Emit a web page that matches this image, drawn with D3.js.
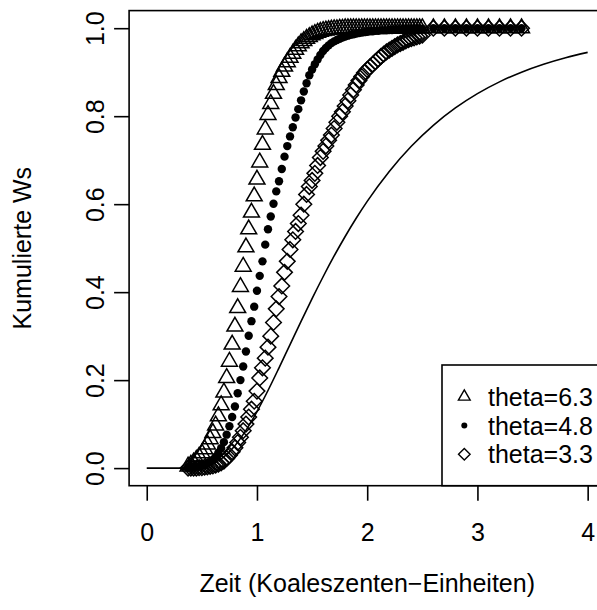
<!DOCTYPE html>
<html>
<head>
<meta charset="utf-8">
<script src="https://d3js.org/d3.v7.min.js"></script>
<style type="text/css">
  body { margin: 0; background: #fff; }
  text { font-family: "Liberation Sans", Arial, sans-serif; fill: #000; }
</style>
</head>
<body>
<div id="chart"></div>
<script type="text/javascript">

// time grid of the three simulated curves
var zeit = [0.375,0.4,0.425,0.45,0.475,0.5,0.525,0.55,0.575,0.6,
  0.625,0.65,0.675,0.7,0.725,0.75,0.775,0.8,0.825,0.85,
  0.875,0.9,0.925,0.95,0.975,1,1.025,1.05,1.075,1.1,
  1.125,1.15,1.175,1.2,1.225,1.25,1.275,1.3,1.325,1.35,
  1.375,1.4,1.425,1.45,1.475,1.5,1.525,1.55,1.575,1.6,
  1.625,1.65,1.675,1.7,1.725,1.75,1.775,1.8,1.825,1.85,
  1.875,1.9,1.925,1.95,1.975,2,2.025,2.05,2.075,2.1,
  2.125,2.15,2.175,2.2,2.225,2.25,2.275,2.3,2.325,2.35,
  2.375,2.4,2.425,2.45,2.475,2.5,
  2.6,2.7,2.8,2.9,3,3.1,3.2,3.3,3.4];

// theta=6.3 (triangles)
var theta63 = [0.004,0.008,0.013,0.019,0.026,0.034,0.043,0.054,0.066,0.080,
  0.097,0.118,0.143,0.172,0.205,0.242,0.281,0.322,0.364,0.412,
  0.458,0.502,0.543,0.581,0.618,0.656,0.695,0.735,0.770,0.803,
  0.828,0.851,0.871,0.887,0.901,0.913,0.923,0.933,0.942,0.951,
  0.959,0.966,0.971,0.976,0.980,0.984,0.987,0.990,0.992,0.994,
  0.995,0.996,0.997,0.998,0.998,0.999,0.999,1,1,1,
  1,1,1,1,1,1,1,1,1,1,
  1,1,1,1,1,1,1,1,1,1,
  1,1,1,1,1,1,
  1,1,1,1,1,1,1,1,1];

// theta=4.8 (filled dots)
var theta48 = [0.000,0.001,0.002,0.003,0.004,0.005,0.007,0.010,0.014,0.019,
  0.026,0.035,0.045,0.059,0.076,0.095,0.116,0.140,0.170,0.200,
  0.231,0.265,0.301,0.334,0.367,0.403,0.437,0.470,0.508,0.543,
  0.572,0.601,0.629,0.652,0.680,0.708,0.732,0.754,0.775,0.797,
  0.816,0.836,0.856,0.875,0.893,0.906,0.918,0.929,0.939,0.948,
  0.955,0.961,0.966,0.970,0.973,0.976,0.979,0.981,0.983,0.985,
  0.986,0.988,0.989,0.990,0.991,0.992,0.993,0.993,0.994,0.994,
  0.995,0.995,0.995,0.996,0.996,0.997,0.997,0.997,0.998,0.998,
  0.998,0.998,0.999,0.999,0.999,0.999,
  1,1,1,1,1,1,1,1,1];

// theta=3.3 (diamonds)
var theta33 = [0,0,0,0,0.001,0.001,0.002,0.003,0.004,0.005,
  0.007,0.009,0.012,0.016,0.022,0.029,0.037,0.046,0.058,0.070,
  0.085,0.100,0.116,0.134,0.152,0.175,0.205,0.228,0.250,0.275,
  0.300,0.331,0.362,0.390,0.414,0.445,0.470,0.497,0.519,0.538,
  0.556,0.575,0.600,0.622,0.640,0.654,0.670,0.688,0.706,0.720,
  0.732,0.745,0.757,0.772,0.786,0.800,0.810,0.823,0.835,0.848,
  0.860,0.871,0.881,0.890,0.899,0.906,0.912,0.918,0.924,0.930,
  0.936,0.941,0.946,0.950,0.954,0.958,0.962,0.965,0.968,0.971,
  0.974,0.976,0.978,0.980,0.982,0.984,
  1,1,1,1,1,1,1,1,1];

// solid reference curve
var kurveT = [0,0.1,0.2,0.3,0.4,0.5,0.6,0.7,0.8,0.9,1,1.1,1.2,1.3,1.4,1.5,1.6,1.7,1.8,1.9,2,
  2.2,2.4,2.6,2.8,3,3.2,3.4,3.6,3.8,4];
var kurveF = [0,0,0,0,0.0003,0.0025,0.0098,0.0255,0.051,0.0858,0.1284,0.1764,0.2279,0.2808,0.3336,
  0.3853,0.435,0.4822,0.5265,0.5679,0.6063,0.6744,0.7316,0.7792,0.8187,0.8513,0.878,0.9001,0.9181,0.9329,0.9451];

var xTicks = [0,1,2,3,4];
var yTicks = [0,0.2,0.4,0.6,0.8,1];
var legendLabels = ["theta=6.3","theta=4.8","theta=3.3"];

var W = 597, H = 610;
var svg = d3.select("#chart").append("svg").attr("width", W).attr("height", H);

// R style: range extended by 4% on each side
var x = d3.scaleLinear().domain([-0.16, 4.16]).range([129.1, 605.3]);
var y = d3.scaleLinear().domain([-0.04, 1.04]).range([485.7, 10.6]);

var lw = 1.6;

// shapes like R pch 2, 20, 5
function triangle(r) {
  var xc = r * Math.sqrt(3) / 2, yc = r / 2;
  return "M0," + (-r) + "L" + xc + "," + yc + "L" + (-xc) + "," + yc + "Z";
}
function diamond(r) {
  return "M0," + (-r) + "L" + r + ",0L0," + r + "L" + (-r) + ",0Z";
}

// reference line
var line = d3.line().x(function(d, i) { return x(kurveT[i]); })
  .y(function(d) { return y(d); }).curve(d3.curveMonotoneX);
svg.append("path").datum(kurveF).attr("d", line)
  .attr("fill", "none").attr("stroke", "#000").attr("stroke-width", lw);

// points
var pts = svg.append("g");
pts.selectAll(".tri").data(theta63).enter().append("path")
  .attr("transform", function(d, i) { return "translate(" + x(zeit[i]) + "," + y(d) + ")"; })
  .attr("d", triangle(9.2)).attr("fill", "none").attr("stroke", "#000").attr("stroke-width", 1.5);
pts.selectAll(".dot").data(theta48).enter().append("circle")
  .attr("cx", function(d, i) { return x(zeit[i]); })
  .attr("cy", function(d) { return y(d); })
  .attr("r", 4.2).attr("fill", "#000");
pts.selectAll(".dia").data(theta33).enter().append("path")
  .attr("transform", function(d, i) { return "translate(" + x(zeit[i]) + "," + y(d) + ")"; })
  .attr("d", diamond(7.8)).attr("fill", "none").attr("stroke", "#000").attr("stroke-width", 1.5);

// box
svg.append("rect").attr("x", 129.1).attr("y", 10.6).attr("width", 476.2).attr("height", 475.1)
  .attr("fill", "none").attr("stroke", "#000").attr("stroke-width", lw);

// axes
var fs = "25px";
var xAxis = svg.append("g").attr("transform", "translate(0,485.7)")
  .call(d3.axisBottom(x).tickValues(xTicks).tickSize(15).tickFormat(d3.format("d")));
xAxis.select(".domain").remove();
xAxis.selectAll("line").attr("stroke-width", lw);
xAxis.selectAll("text").attr("y", 55).attr("dy", null).style("font-size", fs);

var yAxis = svg.append("g").attr("transform", "translate(129.1,0)")
  .call(d3.axisLeft(y).tickValues(yTicks).tickSize(15).tickFormat(d3.format(".1f")));
yAxis.select(".domain").remove();
yAxis.selectAll("line").attr("stroke-width", lw);
yAxis.selectAll("text").attr("x", null).attr("dy", null)
  .attr("text-anchor", "middle").attr("transform", "translate(-25,0) rotate(-90)")
  .style("font-size", fs);

// axis titles
svg.append("text").attr("x", 367.2).attr("y", 592).attr("text-anchor", "middle")
  .style("font-size", fs).text("Zeit (Koaleszenten\u2212Einheiten)");
svg.append("text").attr("transform", "translate(31,248.2) rotate(-90)").attr("text-anchor", "middle")
  .style("font-size", fs).text("Kumulierte Ws");

// legend, bottom right
var leg = svg.append("g");
leg.append("rect").attr("x", 442).attr("y", 365).attr("width", 200).attr("height", 120.7)
  .attr("fill", "#fff").attr("stroke", "#000").attr("stroke-width", lw);
var rowY = [396.7, 425.5, 454.3];
leg.append("path").attr("transform", "translate(464.3," + rowY[0] + ")")
  .attr("d", triangle(6.8)).attr("fill", "none").attr("stroke", "#000").attr("stroke-width", 1.4);
leg.append("circle").attr("cx", 464.3).attr("cy", rowY[1]).attr("r", 3).attr("fill", "#000");
leg.append("path").attr("transform", "translate(464.3," + rowY[2] + ")")
  .attr("d", diamond(5.8)).attr("fill", "none").attr("stroke", "#000").attr("stroke-width", 1.4);
leg.selectAll(".lab").data(legendLabels).enter().append("text")
  .attr("x", 488).attr("y", function(d, i) { return rowY[i] + 9; })
  .style("font-size", fs).text(function(d) { return d; });

</script>
</body>
</html>
